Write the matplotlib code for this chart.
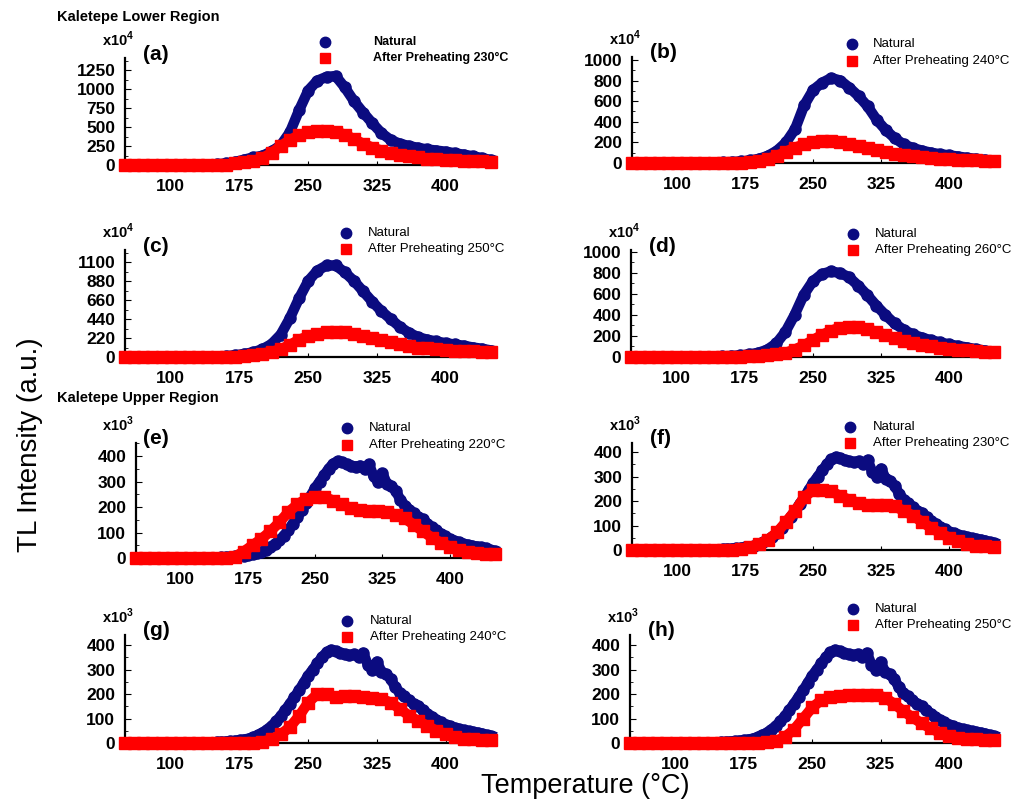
import numpy as np
import matplotlib
matplotlib.use("Agg")
from matplotlib import pyplot as plt
from matplotlib.lines import Line2D
from matplotlib.ticker import AutoMinorLocator

plt.rcParams['font.family'] = 'Liberation Sans'
plt.rcParams['mathtext.fontset'] = 'custom'
plt.rcParams['mathtext.rm'] = 'Liberation Sans'
plt.rcParams['mathtext.bf'] = 'Liberation Sans:bold'

# ---- data ----
temp = np.arange(50, 451, 10)        # 10 C steps
temp_fine = np.arange(50, 451, 5)    # 5 C steps for the noisy upper-region natural curve

# Kaletepe lower region (x10^4)
nat_a = [0, 0, 0, 0, 0, 0, 0, 0, 0, 0, 10, 20, 40, 70, 100, 120, 180, 260, 430, 720,
         980, 1110, 1160, 1170, 1020, 840, 690, 550, 420, 330, 280, 250, 225, 205, 190,
         175, 155, 135, 115, 90, 65]
red_a = [0, 0, 0, 0, 0, 0, 0, 0, 0, 0, 0, 0, 20, 35, 55, 90, 160, 250, 330, 390,
         430, 445, 445, 440, 400, 340, 280, 230, 190, 160, 135, 115, 100, 85, 75,
         65, 60, 55, 50, 48, 45]
nat_b = [0, 0, 0, 0, 0, 0, 0, 0, 0, 0, 5, 10, 15, 25, 40, 70, 120, 200, 330, 560,
         710, 780, 825, 800, 730, 650, 550, 420, 320, 240, 180, 145, 120, 100, 85,
         75, 62, 50, 40, 30, 20]
red_b = [0, 0, 0, 0, 0, 0, 0, 0, 0, 0, 0, 0, 0, 10, 20, 40, 70, 110, 150, 180,
         200, 210, 210, 200, 185, 165, 145, 125, 105, 90, 75, 65, 55, 48, 42,
         36, 32, 28, 25, 22, 20]
nat_c = [0, 0, 0, 0, 0, 0, 0, 0, 0, 0, 5, 10, 20, 35, 55, 90, 150, 260, 450, 680,
         880, 1000, 1060, 1060, 980, 880, 760, 640, 530, 440, 350, 280, 230, 200, 180,
         160, 145, 130, 110, 95, 75]
red_c = [0, 0, 0, 0, 0, 0, 0, 0, 0, 0, 0, 0, 0, 10, 20, 40, 60, 90, 140, 200,
         240, 265, 285, 290, 285, 265, 245, 225, 200, 170, 145, 125, 110, 100, 90,
         80, 75, 70, 65, 60, 55]
nat_d = [0, 0, 0, 0, 0, 0, 0, 0, 0, 0, 5, 10, 15, 25, 40, 70, 130, 240, 400, 590,
         720, 790, 815, 800, 760, 680, 590, 490, 400, 320, 260, 215, 185, 160, 140,
         120, 105, 90, 75, 60, 45]
red_d = [0, 0, 0, 0, 0, 0, 0, 0, 0, 0, 0, 0, 0, 5, 10, 15, 25, 40, 70, 110,
         160, 210, 250, 280, 290, 285, 265, 240, 210, 180, 150, 130, 115, 100, 90,
         80, 70, 62, 55, 50, 45]

# Kaletepe upper region (x10^3), same natural sample in e-h
nat_up = [0, 0, 0, 0, 0, 0, 0, 0, 0, 0, 0, 0, 0, 0, 0, 0, 0, 0, 0,
          2, 4, 5, 6, 7, 9, 11, 14, 18, 24, 32, 42, 55, 70, 88, 110, 135, 160, 188,
          215, 245, 275, 300, 325, 350, 370, 380, 375, 368, 362, 358, 362, 350, 368,
          320, 300, 332, 290, 282, 262, 228, 205, 190, 175, 160, 152, 135, 120, 108,
          95, 85, 75, 68, 62, 56, 52, 48, 45, 42, 38, 32, 28]
red_e = [0, 0, 0, 0, 0, 0, 0, 0, 0, 0, 0, 5, 25, 50, 75, 105, 140, 180, 210, 232,
         240, 240, 225, 210, 195, 188, 185, 183, 180, 170, 155, 130, 105, 80, 60,
         45, 32, 25, 20, 17, 15]
red_f = [0, 0, 0, 0, 0, 0, 0, 0, 0, 0, 0, 0, 5, 12, 25, 42, 72, 115, 160, 215,
         245, 245, 240, 220, 205, 192, 185, 183, 183, 178, 160, 140, 115, 90, 70,
         50, 35, 25, 18, 15, 12]
red_g = [0, 0, 0, 0, 0, 0, 0, 0, 0, 0, 0, 0, 0, 0, 0, 5, 15, 35, 65, 110,
         165, 200, 200, 188, 190, 190, 188, 185, 180, 165, 140, 112, 90, 70, 50,
         36, 25, 18, 15, 13, 12]
red_h = [0, 0, 0, 0, 0, 0, 0, 0, 0, 0, 0, 0, 0, 0, 0, 3, 8, 25, 55, 100,
         145, 175, 188, 192, 195, 197, 198, 198, 185, 160, 130, 105, 80, 60, 42,
         30, 22, 18, 15, 13, 12]

xticks = [100, 175, 250, 325, 400]
yt_a = [0, 250, 500, 750, 1000, 1250]
yt_b = [0, 200, 400, 600, 800, 1000]
yt_c = [0, 220, 440, 660, 880, 1100]
yt_up = [0, 100, 200, 300, 400]

navy = '#0b0b80'
red = '#ff0000'

W, H = 1016, 800
fig = plt.figure(figsize=(W / 100, H / 100), dpi=100)


def fx(px):
    return px / W


def fy(py):
    return 1 - py / H


def panel(left, right, y0, ytop, ymax, yticks, tn, nat, rd, lab, power,
          leg, preheat, boldleg=False, lab_x=None):
    ax = fig.add_axes([fx(left), fy(y0), (right - left) / W, (y0 - ytop) / H])
    ax.plot(tn, nat, color=navy, lw=7.5, marker='o', ms=8, mec=navy,
            clip_on=False, zorder=3)
    ax.plot(temp, rd, color=red, lw=7.5, marker='s', ms=8, mec=red,
            solid_capstyle='butt', clip_on=False, zorder=4)
    ax.set_xlim(50, 455)
    ax.set_ylim(0, ymax)
    ax.set_xticks(xticks)
    ax.set_yticks(yticks)
    ax.yaxis.set_minor_locator(AutoMinorLocator(2))
    for s in ['top', 'right']:
        ax.spines[s].set_visible(False)
    for s in ['left', 'bottom']:
        ax.spines[s].set_linewidth(1.6)
    ax.tick_params(axis='x', direction='in', length=3, pad=10, labelsize=12.5)
    ax.tick_params(axis='y', direction='in', length=4, pad=7, labelsize=12.5)
    ax.tick_params(axis='y', which='minor', direction='in', length=2.5)
    for t in ax.get_xticklabels() + ax.get_yticklabels():
        t.set_fontweight('bold')

    # x10^n and panel label
    if lab_x is None:
        lab_x = left
    fig.text(fx(lab_x - 23), fy(ytop - 12), r'x10$^\mathbf{%d}$' % power,
             fontsize=10.5, fontweight='bold', ha='left', va='baseline')
    fig.text(fx(lab_x + 18), fy(ytop - 4), '(' + lab + ')', fontsize=15,
             fontweight='bold', ha='left', va='center')

    # legend
    cx, cy1, cy2, tx = leg
    fig.add_artist(Line2D([fx(cx)], [fy(cy1)], transform=fig.transFigure,
                          marker='o', ms=7.5, color=navy, ls='none'))
    fig.add_artist(Line2D([fx(cx)], [fy(cy2)], transform=fig.transFigure,
                          marker='s', ms=7.5, color=red, ls='none'))
    w = 'bold' if boldleg else 'normal'
    fs = 9 if boldleg else 9.5
    fig.text(fx(tx), fy(cy1), 'Natural', fontsize=fs, fontweight=w,
             ha='left', va='center')
    fig.text(fx(tx), fy(cy2), 'After Preheating %d\u00b0C' % preheat,
             fontsize=fs, fontweight=w, ha='left', va='center')
    return ax


panel(125, 496, 165, 58, 1408, yt_a, temp, nat_a, red_a, 'a', 4,
      (325, 42, 58, 373), 230, boldleg=True)
panel(632, 999, 163, 57, 1029, yt_b, temp, nat_b, red_b, 'b', 4,
      (852, 44, 61, 873), 240)
panel(125, 496, 357, 250, 1239, yt_c, temp, nat_c, red_c, 'c', 4,
      (346, 233, 249, 368), 250)
panel(631, 999, 357, 250, 1019, yt_b, temp, nat_d, red_d, 'd', 4,
      (853, 234, 250, 875), 260)
panel(136, 499, 558, 443, 451, yt_up, temp_fine, nat_up, red_e, 'e', 3,
      (347, 428, 445, 369), 220, lab_x=125)
panel(632, 999, 550, 443, 437, yt_up, temp_fine, nat_up, red_f, 'f', 3,
      (850, 427, 443, 873), 230)
panel(125, 496, 743, 635, 441, yt_up, temp_fine, nat_up, red_g, 'g', 3,
      (347, 621, 637, 370), 240)
panel(630, 999, 743, 635, 441, yt_up, temp_fine, nat_up, red_h, 'h', 3,
      (853, 609, 625, 875), 250)

fig.text(fx(57), fy(17), 'Kaletepe Lower Region', fontsize=10.5,
         fontweight='bold', ha='left', va='center')
fig.text(fx(57), fy(398), 'Kaletepe Upper Region', fontsize=10.5,
         fontweight='bold', ha='left', va='center')
fig.text(fx(30), fy(445), 'TL Intensity (a.u.)', fontsize=20, rotation=90,
         ha='center', va='center')
fig.text(fx(585), fy(786), 'Temperature (\u00b0C)', fontsize=19.5,
         ha='center', va='center')

fig.savefig('out.png', dpi=100)
